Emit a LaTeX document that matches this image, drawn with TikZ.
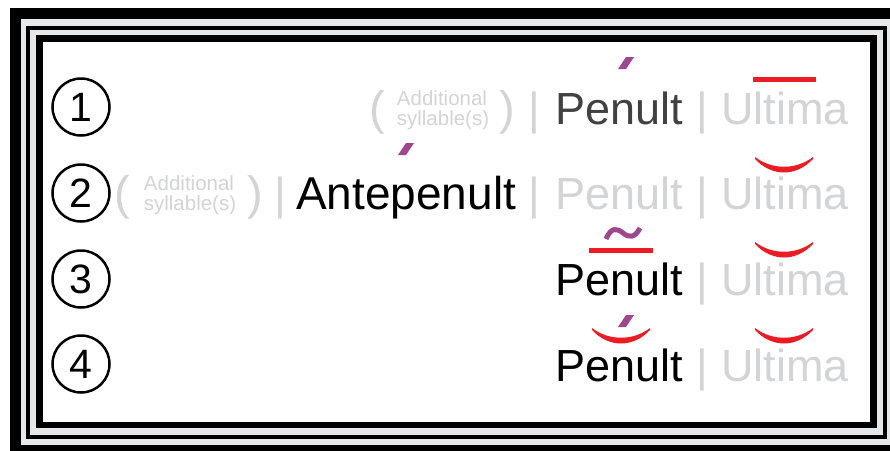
\documentclass[tikz,border=0pt]{standalone}
\usepackage{fontspec}
\setmainfont{Liberation Sans}
\usetikzlibrary{positioning}
\definecolor{framegray}{RGB}{230,231,232}
\definecolor{syllgray}{RGB}{211,212,214}
\definecolor{darkword}{RGB}{65,64,66}
\definecolor{accentpurple}{RGB}{160,70,140}
\definecolor{markred}{RGB}{237,28,36}
\tikzset{
  num/.style={circle,draw,line width=2.5pt,minimum size=57pt,inner sep=0pt,font=\fontsize{41}{41}\selectfont},
  word/.style={anchor=base west,inner sep=0pt,font=\fontsize{45}{45}\selectfont},
  paren/.style={anchor=base west,inner sep=0pt,text=syllgray,font=\fontsize{47}{47}\selectfont},
  bar/.style={anchor=base,inner sep=0pt,text=syllgray,font=\fontsize{45}{45}\selectfont},
  extra/.style={anchor=base,inner sep=0pt,text=syllgray,font=\fontsize{20.5}{20.5}\selectfont},
  acute/.style={fill=accentpurple},
  crescent/.style={fill=markred}
}
\begin{document}
\begin{tikzpicture}[x=1pt,y=-1pt]
  \useasboundingbox (0,0) rectangle (890,450);
  % frame
  \begin{scope}
    \clip (0,0) rectangle (890,450);
    \fill[black] (10,8) rectangle (904,460);
    \fill[framegray] (21,19) rectangle (893,445);
    \fill[black] (26,26) rectangle (887,439);
    \fill[framegray] (30,30) rectangle (883,435);
    \fill[black] (36,35) rectangle (877,428);
    \fill[white] (43,42) rectangle (870,422);
  \end{scope}
  % numbers
  \node[num] (n1) at (81,107) {1};
  \node[num] (n2) at (81,193) {2};
  \node[num] (n3) at (81,279) {3};
  \node[num] (n4) at (81,364) {4};
  % row 1
  \node[paren] (lp1) at (369,124) {(};
  \node[extra] (x1a) at (442,105) {Additional};
  \node[extra] (x1b) at (443,125) {syllable(s)};
  \node[paren] (rp1) at (499,124) {)};
  \node[bar] (b1a) at (534,124) {|};
  \node[word,text=darkword] (p1) at (555,124) {Penult};
  \node[bar] (b1b) at (702,124) {|};
  \node[word,text=syllgray] (u1) at (721,124) {Ultima};
  % row 2
  \node[paren] (lp2) at (114,209) {(};
  \node[extra] (x2a) at (189,190) {Additional};
  \node[extra] (x2b) at (190,210) {syllable(s)};
  \node[paren] (rp2) at (247,209) {)};
  \node[bar] (b2a) at (280,209) {|};
  \node[word,font=\fontsize{46}{46}\selectfont] (a2) at (296,209) {Antepenult};
  \node[bar] (b2b) at (534,209) {|};
  \node[word,text=syllgray] (p2) at (555,209) {Penult};
  \node[bar] (b2c) at (702,209) {|};
  \node[word,text=syllgray] (u2) at (721,209) {Ultima};
  % row 3
  \node[word] (p3) at (555,295) {Penult};
  \node[bar] (b3) at (702,295) {|};
  \node[word,text=syllgray] (u3) at (721,295) {Ultima};
  % row 4
  \node[word] (p4) at (555,381) {Penult};
  \node[bar] (b4) at (702,381) {|};
  \node[word,text=syllgray] (u4) at (721,381) {Ultima};
  % marks
  \fill[acute] (618,69) -- (626,69) -- (634,57) -- (626,57) -- cycle;
  \fill[markred] (753,77) rectangle (816,82);
  \fill[acute] (398,155) -- (406,155) -- (414,143) -- (406,143) -- cycle;
  \fill[crescent] (755,159) .. controls (772,177) and (796,177) .. (813,159)
    -- (813,157) .. controls (796,170) and (772,170) .. (755,157) -- cycle;
  \draw[accentpurple,line width=5pt] (606,239) .. controls (611,227) and (617,228) .. (623,233)
    .. controls (629,238) and (635,238) .. (640,228);
  \fill[markred] (589,248) rectangle (653,253);
  \fill[crescent] (755,244) .. controls (772,262) and (796,262) .. (813,244)
    -- (813,242) .. controls (796,255) and (772,255) .. (755,242) -- cycle;
  \fill[acute] (618,327) -- (626,327) -- (634,315) -- (626,315) -- cycle;
  \fill[crescent] (592,330) .. controls (609,348) and (633,348) .. (650,330)
    -- (650,328) .. controls (633,341) and (609,341) .. (592,328) -- cycle;
  \fill[crescent] (755,330) .. controls (772,348) and (796,348) .. (813,330)
    -- (813,328) .. controls (796,341) and (772,341) .. (755,328) -- cycle;
\end{tikzpicture}
\end{document}
